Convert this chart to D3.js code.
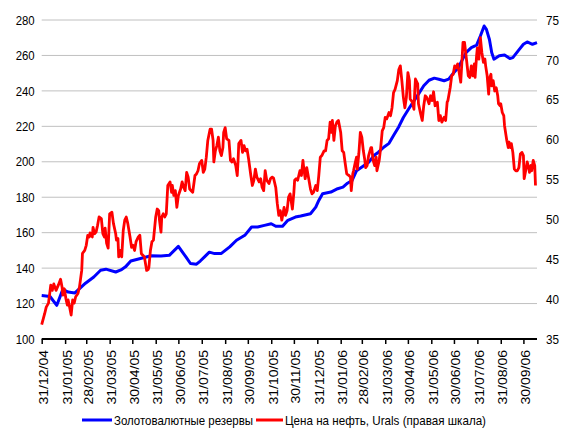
<!DOCTYPE html>
<html>
<head>
<meta charset="utf-8">
<script src="https://cdn.jsdelivr.net/npm/d3@7"></script>
<style>
  body { margin: 0; background: #fff; }
  svg { display: block; font-family: "Liberation Sans", Arial, sans-serif; }
</style>
</head>
<body>
<script>
const w = 563;
const h = 431;

// month-end ticks on the x axis
const monthTicks = ["2004-12-31","2005-01-31","2005-02-28","2005-03-31","2005-04-30","2005-05-31",
  "2005-06-30","2005-07-31","2005-08-31","2005-09-30","2005-10-31","2005-11-30","2005-12-31",
  "2006-01-31","2006-02-28","2006-03-31","2006-04-30","2006-05-31","2006-06-30","2006-07-31",
  "2006-08-31","2006-09-30"];
const leftTicks = [100, 120, 140, 160, 180, 200, 220, 240, 260, 280];
const rightTicks = [35, 40, 45, 50, 55, 60, 65, 70, 75];
const seriesNames = ["Золотовалютные резервы", "Цена на нефть, Urals (правая шкала)"];

// reserves, left scale
const reserves = [
  ["2004-12-31",124.5],["2005-01-11",124],["2005-01-20",119],["2005-01-28",128],["2005-02-04",126.5],
  ["2005-02-13",126],["2005-02-27",131.5],["2005-03-10",135],["2005-03-19",138.8],["2005-03-26",139.4],
  ["2005-04-08",137.8],["2005-04-15",139],["2005-04-21",140.7],["2005-04-28",144],["2005-05-12",145.6],
  ["2005-05-25",147],["2005-06-07",146.9],["2005-06-18",147.2],["2005-06-30",152.3],["2005-07-10",146.3],
  ["2005-07-16",142.6],["2005-07-24",142.2],["2005-07-29",144],["2005-08-04",146.5],["2005-08-10",149],
  ["2005-08-17",148.2],["2005-08-26",148.3],["2005-09-06",152],["2005-09-15",155.7],["2005-09-26",158.5],
  ["2005-10-05",163.2],["2005-10-13",163.2],["2005-10-22",164.1],["2005-10-31",165],["2005-11-06",163.6],
  ["2005-11-15",163.6],["2005-11-22",167],["2005-12-02",168.8],["2005-12-09",169.4],["2005-12-22",170.7],
  ["2005-12-29",174.4],["2006-01-02",178.2],["2006-01-07",182],["2006-01-18",182.9],["2006-01-27",184.8],
  ["2006-02-03",185.7],["2006-02-09",187.9],["2006-02-15",189.4],["2006-02-21",195],["2006-03-03",197.9],
  ["2006-03-09",199.7],["2006-03-16",203.5],["2006-03-22",205.4],["2006-03-29",208.2],["2006-04-05",210.4],
  ["2006-04-11",214.8],["2006-04-18",219.8],["2006-04-24",225],["2006-05-01",229.8],["2006-05-08",234.4],
  ["2006-05-14",238.2],["2006-05-21",242.9],["2006-05-28",246],["2006-06-04",247.2],["2006-06-10",246.6],
  ["2006-06-17",245.7],["2006-06-23",246.6],["2006-06-30",250.4],["2006-07-06",253.2],["2006-07-11",257.5],
  ["2006-07-16",261.6],["2006-07-23",264.4],["2006-07-30",265.8],["2006-08-04",271],["2006-08-09",276.6],
  ["2006-08-12",274.7],["2006-08-16",269],["2006-08-19",261.6],["2006-08-22",257.9],["2006-08-29",259.8],
  ["2006-09-05",260.2],["2006-09-12",258.3],["2006-09-16",258.8],["2006-09-23",262.6],["2006-09-30",266.3],
  ["2006-10-05",267.6],["2006-10-12",266.3],["2006-10-18",267.2]
];

// Urals price, right scale
const urals = [
  ["2004-12-31",36.8],["2005-01-04",38.2],["2005-01-06",39],["2005-01-09",39.5],["2005-01-12",41.75],
  ["2005-01-14",41.1],["2005-01-16",41.9],["2005-01-19",41.1],["2005-01-22",41.75],["2005-01-25",42.5],
  ["2005-01-27",41.5],["2005-01-28",40.5],["2005-01-30",41.3],["2005-02-01",40.1],["2005-02-03",39.25],
  ["2005-02-04",39.9],["2005-02-06",39],["2005-02-08",38],["2005-02-10",39.9],["2005-02-12",39.5],
  ["2005-02-14",40.3],["2005-02-17",40.7],["2005-02-19",41.5],["2005-02-20",42.2],["2005-02-22",43.6],
  ["2005-02-23",45.75],["2005-02-26",46.1],["2005-02-28",46.75],["2005-03-02",48],["2005-03-04",47.8],
  ["2005-03-05",48.3],["2005-03-08",47.8],["2005-03-09",49],["2005-03-11",48.2],["2005-03-13",48.4],
  ["2005-03-15",49.25],["2005-03-17",50.3],["2005-03-20",50.1],["2005-03-22",48.2],["2005-03-24",47.8],
  ["2005-03-25",48.9],["2005-03-27",47],["2005-03-29",46.4],["2005-03-31",50.7],["2005-04-03",50.9],
  ["2005-04-05",49.5],["2005-04-08",48.2],["2005-04-09",47.4],["2005-04-11",47.6],["2005-04-12",45.3],
  ["2005-04-14",46.1],["2005-04-16",45.3],["2005-04-18",48.6],["2005-04-20",49.9],["2005-04-22",50.3],
  ["2005-04-24",49.5],["2005-04-27",47.8],["2005-04-29",46.5],["2005-05-01",46.75],["2005-05-03",46.1],
  ["2005-05-05",47.2],["2005-05-08",47.8],["2005-05-10",48],["2005-05-12",45.7],["2005-05-14",45.5],
  ["2005-05-16",45.3],["2005-05-19",43.6],["2005-05-21",43.7],["2005-05-22",44],["2005-05-24",46.1],
  ["2005-05-26",47.2],["2005-05-28",47.4],["2005-05-31",50.3],["2005-06-02",51.3],["2005-06-04",51.1],
  ["2005-06-05",49.9],["2005-06-07",48.4],["2005-06-08",50.3],["2005-06-10",50.7],["2005-06-12",50.3],
  ["2005-06-14",50.7],["2005-06-16",54.25],["2005-06-19",54.7],["2005-06-21",53.4],["2005-06-22",54.25],
  ["2005-06-24",53],["2005-06-26",53.6],["2005-06-28",51.5],["2005-06-30",53],["2005-07-03",53.8],
  ["2005-07-05",54.7],["2005-07-07",54],["2005-07-09",53.6],["2005-07-11",55.9],["2005-07-13",55.3],
  ["2005-07-15",53.8],["2005-07-17",53.6],["2005-07-19",53.4],["2005-07-22",55.5],["2005-07-24",55.7],
  ["2005-07-26",56.1],["2005-07-28",57],["2005-07-31",57.4],["2005-08-02",55.9],["2005-08-04",56.3],
  ["2005-08-06",57.8],["2005-08-08",59.9],["2005-08-11",61.3],["2005-08-13",61.3],["2005-08-15",59.9],
  ["2005-08-16",57.2],["2005-08-18",58.6],["2005-08-20",59.25],["2005-08-22",60.3],["2005-08-24",58.6],
  ["2005-08-26",58],["2005-08-28",59],["2005-08-29",60.9],["2005-08-31",61.5],["2005-09-02",60.1],
  ["2005-09-05",59.9],["2005-09-07",57.4],["2005-09-09",57.2],["2005-09-11",57.6],["2005-09-14",56.75],
  ["2005-09-16",55.5],["2005-09-17",57.2],["2005-09-18",59.5],["2005-09-21",59.9],["2005-09-23",58.4],
  ["2005-09-25",59.25],["2005-09-27",58.6],["2005-09-29",58.8],["2005-10-01",57.6],["2005-10-04",55.5],
  ["2005-10-06",54.25],["2005-10-08",54.9],["2005-10-10",56.3],["2005-10-12",55.3],["2005-10-15",54.7],
  ["2005-10-17",55.1],["2005-10-19",54],["2005-10-21",53.6],["2005-10-23",56.1],["2005-10-25",54.9],
  ["2005-10-28",54.5],["2005-10-30",55.1],["2005-11-01",55.3],["2005-11-03",55.2],["2005-11-06",54],
  ["2005-11-08",52],["2005-11-10",50.5],["2005-11-12",51.1],["2005-11-14",49.9],["2005-11-17",51.5],
  ["2005-11-19",50.5],["2005-11-21",51.1],["2005-11-23",52.8],["2005-11-25",53.2],["2005-11-28",51.3],
  ["2005-11-30",53.4],["2005-12-01",54.9],["2005-12-03",55.1],["2005-12-05",54.9],["2005-12-08",56.1],
  ["2005-12-10",55.5],["2005-12-12",57.4],["2005-12-13",56.5],["2005-12-15",55.1],["2005-12-17",56.5],
  ["2005-12-20",54.9],["2005-12-22",53.8],["2005-12-24",53.2],["2005-12-26",53.4],["2005-12-29",54.25],
  ["2005-12-31",53.6],["2006-01-02",55.5],["2006-01-04",57.8],["2006-01-06",58],["2006-01-09",58.6],
  ["2006-01-11",58.6],["2006-01-13",59.9],["2006-01-15",60.1],["2006-01-17",62.2],["2006-01-19",60.9],
  ["2006-01-20",62.4],["2006-01-22",59.9],["2006-01-24",61.75],["2006-01-26",62.2],["2006-01-28",62.4],
  ["2006-01-31",60.9],["2006-02-02",58.6],["2006-02-04",58.4],["2006-02-06",57],["2006-02-08",55.7],
  ["2006-02-11",55.5],["2006-02-13",55.3],["2006-02-14",53.6],["2006-02-16",55.7],["2006-02-17",56.1],
  ["2006-02-19",57],["2006-02-21",57.8],["2006-02-22",56.3],["2006-02-24",58.2],["2006-02-26",60.9],
  ["2006-02-28",60.3],["2006-03-02",58.6],["2006-03-04",57.4],["2006-03-05",56.5],["2006-03-07",56.75],
  ["2006-03-09",58],["2006-03-12",59],["2006-03-13",59],["2006-03-15",57.4],["2006-03-17",56.75],
  ["2006-03-19",57.8],["2006-03-20",56.1],["2006-03-23",57.4],["2006-03-25",59],["2006-03-27",61.1],
  ["2006-03-29",61.5],["2006-03-31",62.8],["2006-04-02",62.6],["2006-04-05",63.4],["2006-04-07",63],
  ["2006-04-09",64],["2006-04-11",65.9],["2006-04-13",66.3],["2006-04-16",67.4],["2006-04-18",68.8],
  ["2006-04-20",69.25],["2006-04-22",67.4],["2006-04-24",65.3],["2006-04-26",64],["2006-04-28",65.3],
  ["2006-04-30",68.4],["2006-05-02",67.4],["2006-05-03",65.1],["2006-05-06",64.7],["2006-05-08",63.8],
  ["2006-05-09",65.9],["2006-05-10",67.6],["2006-05-13",67],["2006-05-14",64.5],["2006-05-17",63.2],
  ["2006-05-19",62.4],["2006-05-21",64.25],["2006-05-23",65.5],["2006-05-25",65.3],["2006-05-28",64.5],
  ["2006-05-30",65.5],["2006-06-01",64.9],["2006-06-03",66],["2006-06-05",64.25],["2006-06-08",64.7],
  ["2006-06-10",62.4],["2006-06-12",63],["2006-06-14",62.2],["2006-06-17",62.8],["2006-06-19",62.4],
  ["2006-06-21",64.7],["2006-06-22",64.9],["2006-06-25",66.5],["2006-06-27",68],["2006-06-29",68.2],
  ["2006-07-01",69.25],["2006-07-03",69],["2006-07-05",69.5],["2006-07-08",67.8],["2006-07-09",67.2],
  ["2006-07-11",70.5],["2006-07-12",72.2],["2006-07-14",72.2],["2006-07-17",69.7],["2006-07-19",68],
  ["2006-07-21",67.8],["2006-07-23",69.25],["2006-07-25",68],["2006-07-27",69.5],["2006-07-28",67.8],
  ["2006-07-30",70.5],["2006-07-31",71.5],["2006-08-02",70.1],["2006-08-03",71.5],["2006-08-04",72.8],
  ["2006-08-06",70.9],["2006-08-08",69.7],["2006-08-10",70.1],["2006-08-11",69.25],["2006-08-13",68],
  ["2006-08-15",65.7],["2006-08-16",67.6],["2006-08-18",68.2],["2006-08-19",66.75],["2006-08-21",67.4],
  ["2006-08-23",66.1],["2006-08-25",66.5],["2006-08-27",65.5],["2006-08-28",64.5],["2006-08-30",64.25],
  ["2006-08-31",64.5],["2006-09-02",63.4],["2006-09-04",63],["2006-09-05",61.75],["2006-09-07",60.5],
  ["2006-09-08",59.9],["2006-09-10",59],["2006-09-11",59.7],["2006-09-13",59],["2006-09-14",59.5],
  ["2006-09-16",58.4],["2006-09-18",56.3],["2006-09-20",56.1],["2006-09-22",56.1],["2006-09-24",56.5],
  ["2006-09-26",58.2],["2006-09-28",58.4],["2006-09-30",58],["2006-10-01",55.1],["2006-10-03",56.1],
  ["2006-10-05",57.2],["2006-10-07",56.5],["2006-10-08",55.9],["2006-10-10",56.75],["2006-10-11",56.1],
  ["2006-10-13",57.4],["2006-10-15",56.75],["2006-10-16",54.25]
];

const parse = d3.timeParse("%Y-%m-%d");
const fmt = d3.timeFormat("%d/%m/%y");

let svg = d3.select("body")
            .append("svg")
            .attr("width", w)
            .attr("height", h);

const plot = {left: 41.7, right: 537, top: 20, bottom: 339};

let x = d3.scaleTime()
          .domain([parse("2004-12-31"), parse("2006-10-18")])
          .range([plot.left, plot.right]);

let yL = d3.scaleLinear().domain([100, 280]).range([plot.bottom, plot.top]);
let yR = d3.scaleLinear().domain([35, 75]).range([plot.bottom, plot.top]);

// gridlines (left scale)
svg.append("g")
   .selectAll("line")
   .data(leftTicks.slice(1))
   .enter()
   .append("line")
   .attr("x1", plot.left)
   .attr("x2", plot.right)
   .attr("y1", d => yL(d))
   .attr("y2", d => yL(d))
   .attr("stroke", "#c0c0c0")
   .attr("stroke-width", 1);

// left axis labels
let axL = svg.append("g")
   .attr("transform", `translate(${plot.left},0)`)
   .call(d3.axisLeft(yL).tickValues(leftTicks).tickSize(0).tickPadding(7));
axL.select(".domain").remove();
axL.selectAll("text")
   .attr("font-size", 13)
   .attr("fill", "#000")
   .attr("font-family", "Liberation Sans, Arial, sans-serif")
   .attr("textLength", 19)
   .attr("lengthAdjust", "spacingAndGlyphs");

// right axis labels
let axR = svg.append("g")
   .attr("transform", `translate(${plot.right},0)`)
   .call(d3.axisRight(yR).tickValues(rightTicks).tickSize(0).tickPadding(9));
axR.select(".domain").remove();
axR.selectAll("text")
   .attr("font-size", 13)
   .attr("fill", "#000")
   .attr("font-family", "Liberation Sans, Arial, sans-serif")
   .attr("textLength", 13)
   .attr("lengthAdjust", "spacingAndGlyphs");

// bottom axis
let axB = svg.append("g")
   .attr("transform", `translate(0,${plot.bottom})`)
   .call(d3.axisBottom(x).tickValues(monthTicks.map(parse)).tickSize(5).tickFormat(fmt));
axB.select(".domain")
   .attr("d", `M${plot.left},0H${plot.right}`)
   .attr("stroke", "#000")
   .attr("stroke-width", 2);
axB.selectAll(".tick line").attr("stroke", "#000").attr("stroke-width", 1.5);
axB.selectAll("text")
   .attr("font-size", 14)
   .attr("fill", "#000")
   .attr("font-family", "Liberation Sans, Arial, sans-serif")
   .attr("text-anchor", "end")
   .attr("y", 0)
   .attr("dy", 0)
   .attr("transform", "translate(6,11) scale(0.85,1) rotate(-90)");

// lines
let lineL = d3.line().x(d => x(parse(d[0]))).y(d => yL(d[1]));
let lineR = d3.line().x(d => x(parse(d[0]))).y(d => yR(d[1]));

svg.append("path")
   .datum(reserves)
   .attr("d", lineL)
   .attr("fill", "none")
   .attr("stroke", "#0000ff")
   .attr("stroke-width", 3)
   .attr("stroke-linejoin", "round");

svg.append("path")
   .datum(urals)
   .attr("d", lineR)
   .attr("fill", "none")
   .attr("stroke", "#ff0000")
   .attr("stroke-width", 2.8)
   .attr("stroke-linejoin", "round");

// legend
const legend = [
  {name: seriesNames[0], color: "#0000ff", x1: 82, x2: 112, tx: 114, len: 139},
  {name: seriesNames[1], color: "#ff0000", x1: 256, x2: 283, tx: 285, len: 201}
];
let lg = svg.append("g");
legend.forEach(l => {
  lg.append("line")
    .attr("x1", l.x1).attr("x2", l.x2)
    .attr("y1", 420).attr("y2", 420)
    .attr("stroke", l.color)
    .attr("stroke-width", 3);
  lg.append("text")
    .attr("x", l.tx)
    .attr("y", 425)
    .attr("font-size", 13)
    .attr("fill", "#000")
    .attr("textLength", l.len)
    .attr("lengthAdjust", "spacingAndGlyphs")
    .text(l.name);
});
</script>
</body>
</html>
